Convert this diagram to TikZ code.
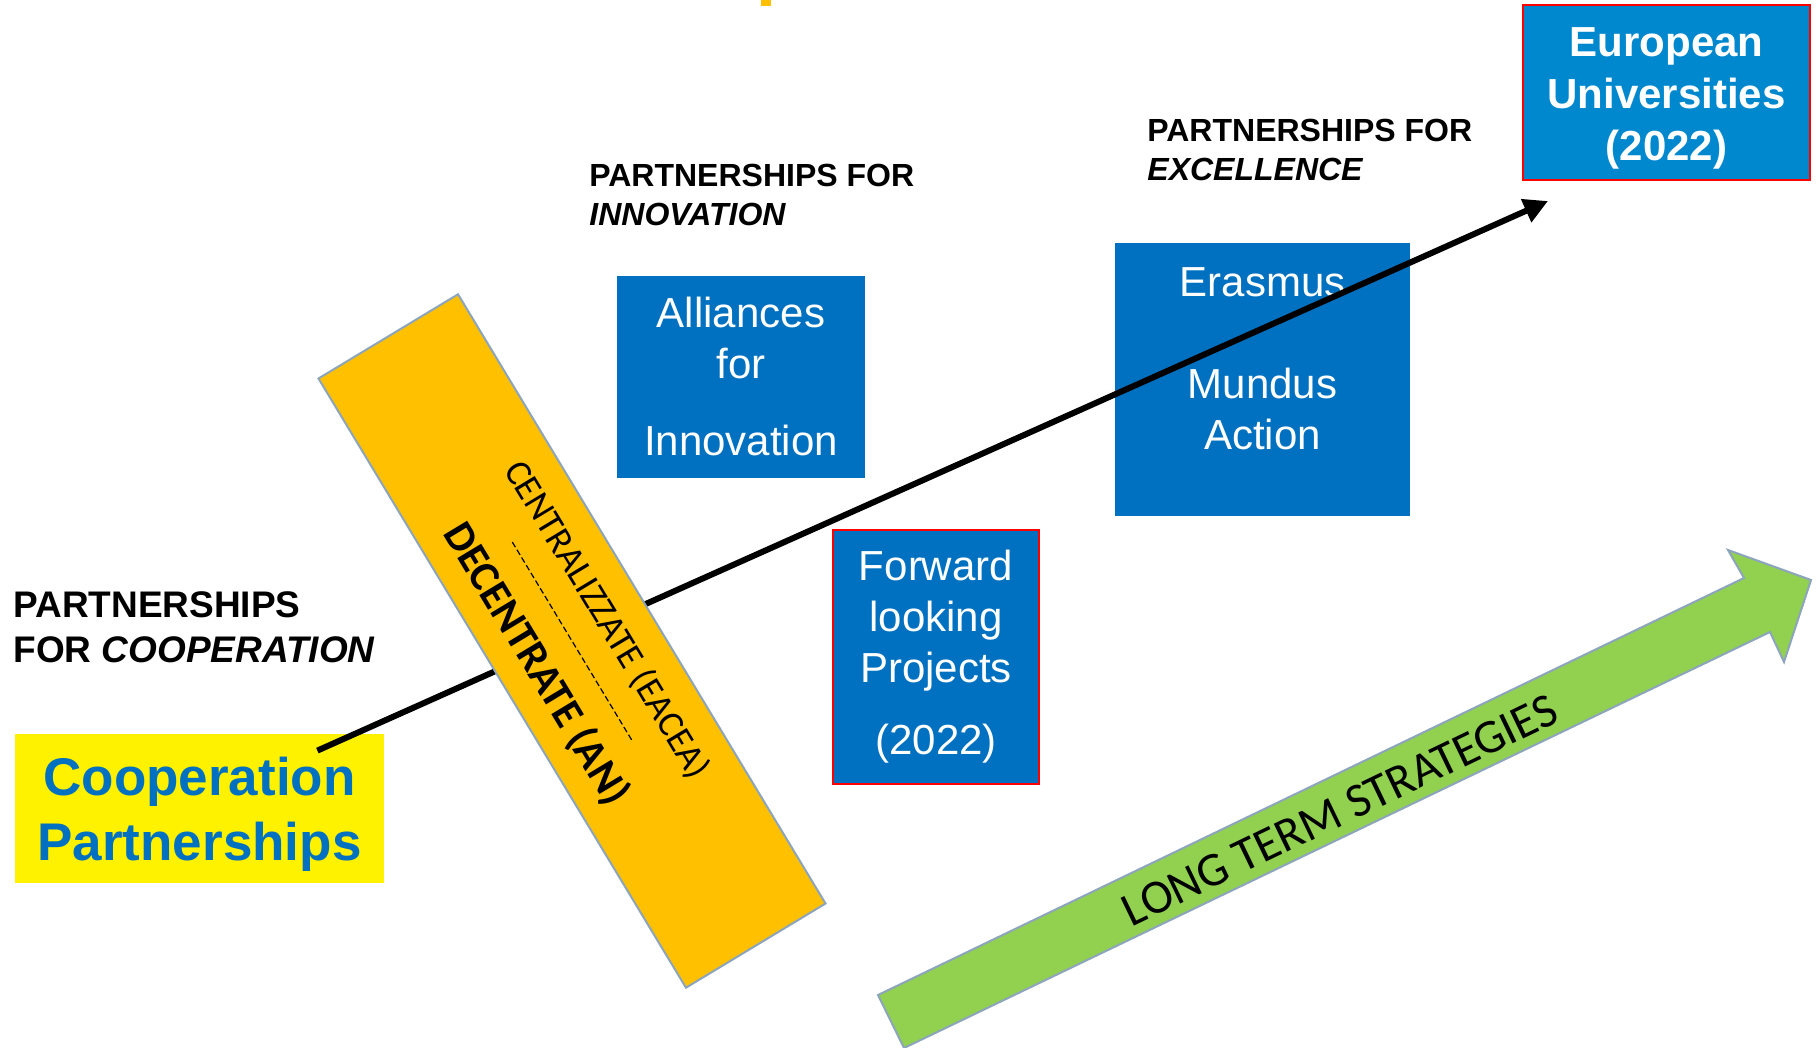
\documentclass[tikz,border=0pt]{standalone}
\usepackage{fontspec}
\setmainfont{Liberation Sans}
\newfontfamily\calibri{Carlito}
\usetikzlibrary{positioning,calc,arrows.meta}
\definecolor{boxblue}{HTML}{0070C0}
\definecolor{eublue}{HTML}{0088CE}
\definecolor{barorange}{HTML}{FFC000}
\definecolor{arrowgreen}{HTML}{92D050}
\definecolor{edgegrey}{HTML}{8CA5BC}
\definecolor{boxred}{HTML}{FF0000}

\begin{document}
\begin{tikzpicture}[x=0.5pt,y=-0.5pt,
	% Box style
	box/.style={rectangle,fill=boxblue,text=white,align=center,inner sep=0pt,font=\fontsize{21}{25.5}\selectfont},
	redbox/.style={box,draw=boxred,line width=1pt},
	% Heading style
	heading/.style={align=left,inner sep=0pt,anchor=north west,font=\bfseries\fontsize{16}{19.5}\selectfont},
	% Bar and arrows
	bar/.style={rectangle,fill=barorange,draw=edgegrey,line width=1pt,inner sep=0pt},
	slanted/.style={inner sep=0pt,rotate=-58.9},
	divider/.style={dash pattern=on 3pt off 1.5pt,line width=0.6pt},
	progress/.style={line width=3pt,-{Triangle[length=12pt,width=12pt]}}
	]
	\path[use as bounding box,clip] (0,0) rectangle (1819,1048);
	\fill[barorange] (761,0) rectangle (771,6);
	%% Boxes and headings
	\node[box,minimum width=184.5pt,minimum height=74.5pt,fill=yellow,text=boxblue,font=\bfseries\fontsize{26.5}{32.5}\selectfont] (coop) at (199.5,808.5) {\rule{0pt}{24.5pt}Cooperation\\Partnerships};
	\node[heading,font=\bfseries\fontsize{18.5}{22.5}\selectfont] (coophead) at (13,591) {PARTNERSHIPS\\FOR \textit{COOPERATION}};
	\node[heading] (innovhead) at (589,164) {PARTNERSHIPS FOR\\\textit{INNOVATION}};
	\node[heading] (excelhead) at (1147,119) {PARTNERSHIPS FOR\\\textit{EXCELLENCE}};
	\node[box,minimum width=124pt,minimum height=101pt] (alliance) at (741,376.5) {Alliances\\for\\[13pt]Innovation};
	\node[redbox,minimum width=103pt,minimum height=127pt] (forward) at (936,657) {Forward\\looking\\Projects\\[10.5pt](2022)};
	\node[box,minimum width=147.5pt,minimum height=136.5pt] (erasmus) at (1262.5,379.5) {\rule{0pt}{19pt}Erasmus\\[25.5pt]Mundus\\Action\\\mbox{}};
	\node[redbox,fill=eublue,minimum width=143.5pt,minimum height=87.5pt,font=\bfseries\fontsize{21}{26}\selectfont] (eu) at (1666.5,92.5) {\rule{0pt}{20.5pt}European\\Universities\\(2022)};
	%% Main arrow
	\draw[progress] ([shift={(-67,17)}]coop.north east) -- ([shift={(26,20)}]eu.south west);
	%% Agency bar
	\node[bar,rotate=-58.9,minimum width=355.75pt,minimum height=81.5pt] (agency) at (572,641) {};
	\draw[divider] ($(agency.west)!0.338!(agency.east)$) -- ($(agency.west)!0.662!(agency.east)$);
	\node[slanted,font=\calibri\fontsize{18.5}{22}\selectfont] (central) at (607,620) {CENTRALIZZATE (EACEA)};
	\node[slanted,font=\calibri\bfseries\fontsize{21.5}{26}\selectfont] (decentral) at (536,664) {DECENTRATE (AN)};
	%% Long term arrow
	\filldraw[fill=arrowgreen,draw=edgegrey,line width=1pt] (878,995) -- (1744,578) -- (1728,550) -- (1811,580) -- (1784,662) -- (1770,632) -- (904,1048) -- cycle;
	\node[inner sep=0pt,rotate=25.7,font=\calibri\fontsize{24}{28}\selectfont] (longterm) at (1340,810) {LONG TERM STRATEGIES};
\end{tikzpicture}
\end{document}
